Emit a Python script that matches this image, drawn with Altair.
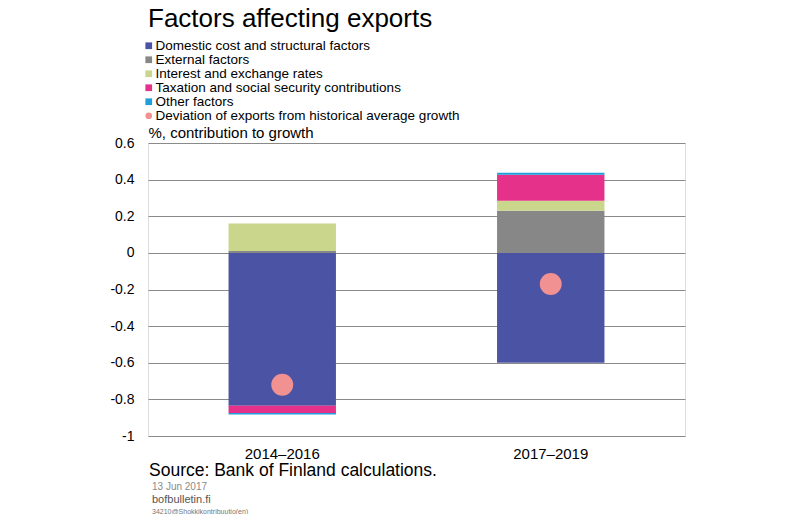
import altair as alt
import pandas as pd

periods = ["2014–2016", "2017–2019"]
series = [
    "Domestic cost and structural factors",
    "External factors",
    "Interest and exchange rates",
    "Taxation and social security contributions",
    "Other factors",
]
dot_name = "Deviation of exports from historical average growth"
colors = ["#4B53A4", "#878787", "#C9D68C", "#E5318A", "#1E9FDB"]
dot_color = "#F29191"

domestic = [-0.835, -0.60]
external = [0.01, 0.23]
interest = [0.15, 0.055]
taxation = [-0.04, 0.142]
other = [-0.007, 0.01]
deviation = [-0.72, -0.17]

y_ticks = [-1, -0.8, -0.6, -0.4, -0.2, 0, 0.2, 0.4, 0.6]

title_text = "Factors affecting exports"
y_title = "%, contribution to growth"
source_text = "Source: Bank of Finland calculations."
date_text = "13 Jun 2017"
site_text = "bofbulletin.fi"
code_text = "34210@Shokkikontribuutio(en)"

FONT = "Liberation Sans"

rows = []
for vals, name in zip([domestic, external, interest, taxation, other], series):
    for i, p in enumerate(periods):
        rows.append({"period": p, "series": name, "value": vals[i], "ord": series.index(name)})
bars_df = pd.DataFrame(rows)
dots_df = pd.DataFrame({"period": periods, "series": [dot_name] * 2, "value": deviation})

domain_all = series + [dot_name]
color_scale = alt.Scale(domain=domain_all, range=colors + [dot_color])
shape_scale = alt.Scale(domain=domain_all, range=["square"] * 5 + ["circle"])
x_scale = alt.Scale(paddingInner=0.6, paddingOuter=0.3)
y_scale = alt.Scale(domain=[-1, 0.6], nice=False, zero=False)

x_axis = alt.Axis(title=None, labelAngle=0, ticks=False, domain=False, grid=False,
                  labelFontSize=15, labelPadding=10, labelColor="#000", labelFont=FONT)
y_axis = alt.Axis(
    values=y_ticks, title=y_title, titleAngle=0, titleX=0, titleY=-3,
    titleAlign="left", titleBaseline="bottom", titleFontSize=15,
    titleFontWeight="normal", titleFont=FONT, titleColor="#000",
    labelFontSize=14, labelFont=FONT, labelColor="#000", labelPadding=14,
    labelOverlap=False, labelFlush=False,
    ticks=False, domain=False, grid=True, gridColor="#8a8a8a",
    labelExpr="'' + datum.value",
)

legend = alt.Legend(
    title=None, orient="none", legendX=-6, legendY=-104,
    labelFontSize=13.5, labelFont=FONT, labelColor="#000", labelLimit=0,
    labelOffset=0, symbolSize=45, rowPadding=-2.5, padding=0, symbolStrokeWidth=0,
)

bars = alt.Chart(bars_df).mark_bar().encode(
    x=alt.X("period:N", sort=periods, scale=x_scale, axis=x_axis),
    y=alt.Y("value:Q", stack="zero", scale=y_scale, axis=y_axis),
    color=alt.Color("series:N", scale=color_scale, legend=legend),
    order=alt.Order("ord:Q", sort="ascending"),
)

dots = alt.Chart(dots_df).mark_point(filled=True, size=480, opacity=1).encode(
    x=alt.X("period:N", sort=periods, scale=x_scale, axis=x_axis),
    y=alt.Y("value:Q", scale=y_scale, axis=y_axis),
    color=alt.Color("series:N", scale=color_scale, legend=legend),
    shape=alt.Shape("series:N", scale=shape_scale, legend=legend),
)


def note(text, x, y, size, color="#000"):
    return alt.Chart(pd.DataFrame({"t": [text]})).mark_text(
        align="left", baseline="alphabetic", fontSize=size, font=FONT, color=color
    ).encode(text="t:N", x=alt.value(x), y=alt.value(y))


chart = alt.layer(
    bars, dots,
    note(title_text, 0, -116, 26),
    note(source_text, 1, 333, 17.5),
    note(date_text, 4, 347, 10, "#8a8a8a"),
    note(site_text, 4, 360, 11, "#555"),
    note(code_text, 4, 371, 7, "#777"),
).resolve_scale(color="shared", shape="shared").properties(
    width=537, height=293,
    autosize=alt.AutoSizeParams(type="none"),
    padding={"left": 140, "top": 135, "right": 107, "bottom": 78},
).configure_view(stroke="#444", strokeWidth=1).configure(background="white")

chart.save("out.html", embed_options={"renderer": "svg", "actions": False})
